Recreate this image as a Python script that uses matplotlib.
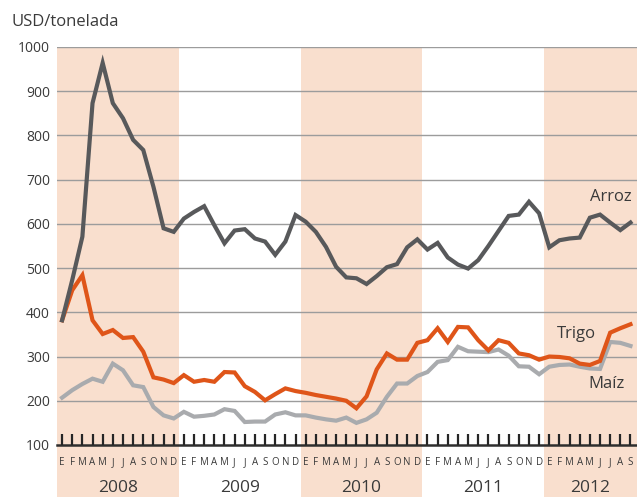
import matplotlib
matplotlib.use("Agg")
import matplotlib.pyplot as plt
import matplotlib.transforms as mtransforms
import numpy as np

plt.rcParams['font.family'] = ['Open Sans', 'DejaVu Sans']

# ---- data (USD/tonelada), monthly Jan 2008 .. Sep 2012 ----
arroz = [382, 473, 571, 873, 964, 873, 839, 790, 767, 684, 590, 582,
         612, 627, 640, 597, 556, 585, 588, 567, 560, 530, 560, 620,
         605, 582, 548, 503, 479, 477, 464, 482, 502, 509, 547, 565,
         542, 557, 524, 508, 499, 518, 550, 584, 618, 621, 650, 624,
         547, 563, 567, 569, 614, 621, 603, 586, 603]
trigo = [382, 450, 484, 382, 351, 360, 342, 344, 311, 253, 248, 240,
         258, 243, 247, 243, 265, 264, 233, 220, 201, 215, 228, 222,
         218, 213, 209, 205, 200, 183, 210, 271, 307, 293, 293, 331,
         337, 364, 333, 367, 366, 337, 314, 337, 331, 307, 303, 293,
         300, 299, 296, 284, 281, 290, 354, 364, 373]
maiz = [207, 224, 238, 250, 243, 284, 269, 235, 231, 186, 167, 160,
        175, 164, 166, 169, 181, 177, 152, 153, 153, 169, 174, 167,
        167, 162, 158, 155, 162, 150, 158, 173, 209, 239, 239, 256,
        265, 288, 292, 322, 312, 311, 310, 316, 302, 278, 277, 260,
        277, 281, 282, 277, 273, 272, 333, 331, 324]
years = ['2008', '2009', '2010', '2011', '2012']
month_letters = ['E', 'F', 'M', 'A', 'M', 'J', 'J', 'A', 'S', 'O', 'N', 'D']
yticks = [100, 200, 300, 400, 500, 600, 700, 800, 900, 1000]
shaded_years = ['2008', '2010', '2012']

n = len(arroz)
x = np.arange(n)

C_ARROZ = '#58595B'
C_TRIGO = '#DF5519'
C_MAIZ = '#A9ABAE'
C_SHADE = '#F9DFCE'
C_TEXT = '#3A3A3A'

W, H = 637, 497
fig = plt.figure(figsize=(W / 100, H / 100), dpi=100)
left, right, top, bottom = 57, 637, 47, 445
ax = fig.add_axes([left / W, (H - bottom) / H, (right - left) / W, (bottom - top) / H])
ax.set_xlim(-0.5, -0.5 + (right - left) / 10.15)
ax.set_ylim(100, 1000)

# year shading, extending below the axis to the bottom of the figure
for i, yr in enumerate(years):
    if yr in shaded_years:
        ax.axvspan(i * 12 - 0.5, i * 12 + 11.5, ymin=-0.14, ymax=1,
                   color=C_SHADE, lw=0, clip_on=False, zorder=0)

# gridlines
for v in yticks[1:]:
    ax.axhline(v, color='#9C9C9C', lw=1.0, zorder=1)
ax.axhline(100, color='#2E2E2E', lw=1.8, zorder=3, clip_on=False)

# month tick marks
ax.vlines(x, 100, 125, color='#262626', lw=1.6, zorder=3)

ax.plot(x, maiz, color=C_MAIZ, lw=3.0, zorder=4, solid_joinstyle='miter')
ax.plot(x, trigo, color=C_TRIGO, lw=3.0, zorder=5, solid_joinstyle='miter')
ax.plot(x, arroz, color=C_ARROZ, lw=3.0, zorder=6, solid_joinstyle='miter')

for s in ax.spines.values():
    s.set_visible(False)
ax.set_yticks(yticks)
ax.set_yticklabels([str(v) for v in yticks])
ax.tick_params(axis='y', length=0, pad=5, labelsize=10, labelcolor=C_TEXT)
ax.set_xticks([])

trans = mtransforms.blended_transform_factory(ax.transData, ax.transAxes)
for i in range(n):
    ax.text(i, -0.045, month_letters[i % 12], transform=trans, ha='center',
            va='center', fontsize=7, color=C_TEXT)
for i, yr in enumerate(years):
    last = min(i * 12 + 11.5, ax.get_xlim()[1])
    cx = (i * 12 - 0.5 + last) / 2
    ax.text(cx, -0.108, yr, transform=trans, ha='center', va='center',
            fontsize=12.5, color=C_TEXT)

fig.text(12 / W, 1 - 22 / H, 'USD/tonelada', ha='left', va='center',
         fontsize=12, color=C_TEXT)

ax.text(54.1, 661, 'Arroz', ha='center', va='center', fontsize=12, color=C_TEXT)
ax.text(50.7, 352, 'Trigo', ha='center', va='center', fontsize=12, color=C_TEXT)
ax.text(53.6, 239, 'Maíz', ha='center', va='center', fontsize=12, color=C_TEXT)

fig.savefig('out.png', dpi=100)
